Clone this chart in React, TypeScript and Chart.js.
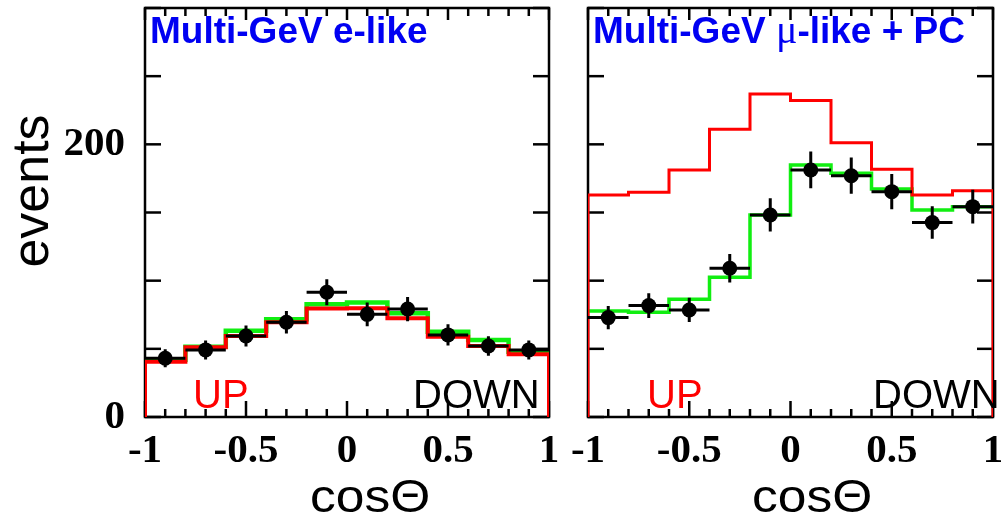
import React, { useEffect, useRef } from 'react';
import { Chart, registerables } from 'chart.js';

Chart.register(...registerables);

// ---------- data ----------
const binEdges = [-1, -0.8, -0.6, -0.4, -0.2, 0, 0.2, 0.4, 0.6, 0.8, 1];
const binCenters = [-0.9, -0.7, -0.5, -0.3, -0.1, 0.1, 0.3, 0.5, 0.7, 0.9];

// Multi-GeV e-like
const eNoOsc = [40.6, 51.1, 59.4, 69.5, 79.5, 79.8, 72.4, 58.9, 52.1, 46.0];
const eOsc = [42.0, 51.5, 63.3, 71.7, 82.7, 83.9, 76.1, 62.6, 56.5, 47.9];
const eData = [43.1, 49.2, 59.4, 69.5, 91.5, 75.3, 79.2, 60.2, 52.1, 49.2];
const eErr = [6.6, 7.0, 7.7, 8.3, 9.6, 8.7, 8.9, 7.8, 7.2, 7.0];

// Multi-GeV mu-like + PC
const muNoOsc = [162.9, 164.9, 181.2, 211.1, 237.0, 232.1, 201.2, 181.7, 162.9, 166.0];
const muOsc = [77.8, 76.8, 86.4, 102.5, 148.2, 184.9, 178.8, 167.3, 151.9, 154.3];
const muData = [72.9, 81.7, 78.5, 109.1, 148.2, 181.2, 177.0, 165.3, 142.6, 154.3];
const muErr = [8.5, 9.0, 8.9, 10.4, 12.2, 13.5, 13.3, 12.9, 11.9, 12.4];

const xTickValues = [-1, -0.5, 0, 0.5, 1];
const xTickLabels = ['-1', '-0.5', '0', '0.5', '1'];
const yTickLabelValues = [0, 200];
const yLabelText = ['0', '200'];

const xMinorStep = 0.1;
const yTickStep = 50;
const Y_MAX = 300;

// ---------- helpers ----------
function histPoints(vals: number[], dropToZero: boolean) {
  const pts: { x: number; y: number }[] = [];
  if (dropToZero) pts.push({ x: binEdges[0], y: 0 });
  vals.forEach((v, i) => pts.push({ x: binEdges[i], y: v }));
  pts.push({ x: binEdges[binEdges.length - 1], y: vals[vals.length - 1] });
  if (dropToZero) pts.push({ x: binEdges[binEdges.length - 1], y: 0 });
  return pts;
}

const SANS = '"Liberation Sans", Arial, sans-serif';
const SERIF = '"Liberation Serif", "Times New Roman", serif';

const framePlugin = {
  id: 'frameTicks',
  beforeDatasetsDraw(chart: any) {
    const { ctx, chartArea: a, scales } = chart;
    const x = scales.x;
    const y = scales.y;
    ctx.save();
    ctx.strokeStyle = '#000';
    ctx.lineWidth = 2.5;
    ctx.lineCap = 'butt';
    ctx.strokeRect(a.left, a.top, a.right - a.left, a.bottom - a.top);
    const seg = (x1: number, y1: number, x2: number, y2: number) => {
      ctx.beginPath();
      ctx.moveTo(x1, y1);
      ctx.lineTo(x2, y2);
      ctx.stroke();
    };
    const nX = Math.round((x.max - x.min) / xMinorStep);
    for (let k = 0; k <= nX; k++) {
      const v = x.min + k * xMinorStep;
      const px = x.getPixelForValue(v);
      const major = k % 5 === 0;
      seg(px, a.bottom, px, a.bottom - (major ? 16 : 8));
      seg(px, a.top, px, a.top + (major ? 12 : 8));
    }
    for (let v = 0; v <= Y_MAX + 1e-9; v += yTickStep) {
      const py = y.getPixelForValue(v);
      seg(a.left, py, a.left + 16, py);
      seg(a.right, py, a.right - 16, py);
    }
    ctx.restore();
  },
};

const errorBarPlugin = {
  id: 'errorBars',
  beforeDatasetDraw(chart: any, args: any) {
    const ds = chart.data.datasets[args.index];
    if (!ds.yErr) return;
    const { ctx } = chart;
    const x = chart.scales.x;
    const y = chart.scales.y;
    ctx.save();
    ctx.strokeStyle = '#000';
    ctx.lineWidth = 3;
    ds.data.forEach((p: any, i: number) => {
      const xl = x.getPixelForValue(binEdges[i]);
      const xr = x.getPixelForValue(binEdges[i + 1]);
      const px = x.getPixelForValue(p.x);
      const py = y.getPixelForValue(p.y);
      ctx.beginPath();
      ctx.moveTo(xl, py);
      ctx.lineTo(xr, py);
      ctx.moveTo(px, y.getPixelForValue(p.y - ds.yErr[i]));
      ctx.lineTo(px, y.getPixelForValue(p.y + ds.yErr[i]));
      ctx.stroke();
    });
    ctx.restore();
  },
};

type PanelText = {
  title: { text: string; serif?: boolean }[];
  upX: number;
  downX: number;
  cosX: number;
  yTitle: boolean;
};

function makeTextPlugin(t: PanelText) {
  return {
    id: 'panelText',
    afterDraw(chart: any) {
      const { ctx, chartArea: a } = chart;
      ctx.save();
      // title
      ctx.fillStyle = '#0000f2';
      ctx.textBaseline = 'alphabetic';
      ctx.textAlign = 'left';
      let xp = a.left + 5;
      t.title.forEach((part) => {
        ctx.font = part.serif ? `40px ${SERIF}` : `bold 37px ${SANS}`;
        ctx.fillText(part.text, xp, 43);
        xp += ctx.measureText(part.text).width;
      });
      // UP / DOWN
      ctx.font = `40px ${SANS}`;
      ctx.fillStyle = '#ff0000';
      ctx.fillText('UP', a.left + t.upX, 408);
      ctx.fillStyle = '#000';
      ctx.fillText('DOWN', a.left + t.downX, 408);
      // x title
      ctx.save();
      ctx.translate(a.left + t.cosX, 512);
      ctx.scale(1.12, 1);
      ctx.font = `46px ${SANS}`;
      ctx.fillText('cos\u0398', 0, 0);
      ctx.restore();
      // y title
      if (t.yTitle) {
        ctx.save();
        ctx.translate(48, 191);
        ctx.rotate(-Math.PI / 2);
        ctx.textAlign = 'center';
        ctx.font = `52px ${SANS}`;
        ctx.fillText('events', 0, 0);
        ctx.restore();
      }
      ctx.restore();
    },
  };
}

function makeConfig(
  noOsc: number[],
  osc: number[],
  data: number[],
  err: number[],
  showYLabels: boolean,
  padding: { left: number; right: number },
  lineW: number,
  text: PanelText
): any {
  return {
    type: 'scatter',
    data: {
      datasets: [
        {
          type: 'scatter',
          data: binCenters.map((c, i) => ({ x: c, y: data[i] })),
          yErr: err,
          pointRadius: 7.5,
          pointBackgroundColor: '#000',
          pointBorderWidth: 0,
          showLine: false,
          order: 0,
        },
        {
          type: 'line',
          data: histPoints(noOsc, true),
          stepped: 'before',
          borderColor: '#ff0000',
          borderWidth: lineW,
          pointRadius: 0,
          fill: false,
          borderJoinStyle: 'miter',
          order: 1,
        },
        {
          type: 'line',
          data: histPoints(osc, false),
          stepped: 'before',
          borderColor: '#11ee11',
          borderWidth: lineW + 0.5,
          pointRadius: 0,
          fill: false,
          borderJoinStyle: 'miter',
          order: 2,
        },
      ],
    },
    options: {
      responsive: false,
      animation: false,
      devicePixelRatio: 1,
      events: [],
      layout: { padding: { top: 8, bottom: 0, left: padding.left, right: padding.right } },
      plugins: { legend: { display: false }, tooltip: { enabled: false }, title: { display: false } },
      scales: {
        x: {
          type: 'linear',
          min: -1,
          max: 1,
          grid: { display: false },
          border: { display: false },
          ticks: {
            stepSize: 0.5,
            autoSkip: false,
            maxRotation: 0,
            padding: 2,
            color: '#000',
            font: { family: SERIF, weight: 'bold', size: 41 },
            callback: (v: number) => {
              const i = xTickValues.findIndex((t) => Math.abs(t - v) < 1e-6);
              return i >= 0 ? xTickLabels[i] : '';
            },
          },
          afterFit: (s: any) => {
            s.height = 101;
            s.paddingLeft = 0;
            s.paddingRight = 0;
          },
        },
        y: {
          type: 'linear',
          min: 0,
          max: Y_MAX,
          display: showYLabels,
          grid: { display: false },
          border: { display: false },
          ticks: {
            stepSize: yTickStep,
            padding: 12,
            color: '#000',
            font: { family: SERIF, weight: 'bold', size: 41 },
            callback: (v: number) => {
              const i = yTickLabelValues.indexOf(v);
              return i >= 0 ? yLabelText[i] : '';
            },
          },
          afterFit: (s: any) => {
            s.width = showYLabels ? 145 : 0;
            s.paddingTop = 0;
            s.paddingBottom = 0;
          },
        },
      },
    },
    plugins: [framePlugin, errorBarPlugin, makeTextPlugin(text)],
  };
}

function Panel(props: { left: number; width: number; height: number; make: () => any }) {
  const ref = useRef<HTMLCanvasElement>(null);
  useEffect(() => {
    const chart = new Chart(ref.current as HTMLCanvasElement, props.make());
    return () => chart.destroy();
  }, []);
  return (
    <canvas
      ref={ref}
      width={props.width}
      height={props.height}
      style={{ position: 'absolute', left: props.left, top: 0, width: props.width, height: props.height }}
    />
  );
}

export default function App() {
  return (
    <div
      style={{
        position: 'fixed',
        left: 0,
        top: 0,
        width: 1001,
        height: 518,
        background: '#fff',
        overflow: 'hidden',
      }}
    >
      <Panel
        left={0}
        width={570}
        height={518}
        make={() =>
          makeConfig(eNoOsc, eOsc, eData, eErr, true, { left: 0, right: 21 }, 4, {
            title: [{ text: 'Multi-GeV e-like' }],
            upX: 48,
            downX: 268,
            cosX: 165,
            yTitle: true,
          })
        }
      />
      <Panel
        left={570}
        width={431}
        height={518}
        make={() =>
          makeConfig(muNoOsc, muOsc, muData, muErr, false, { left: 18, right: 8 }, 3, {
            title: [{ text: 'Multi-GeV ' }, { text: '\u03bc', serif: true }, { text: '-like + PC' }],
            upX: 59,
            downX: 285,
            cosX: 164,
            yTitle: false,
          })
        }
      />
    </div>
  );
}
